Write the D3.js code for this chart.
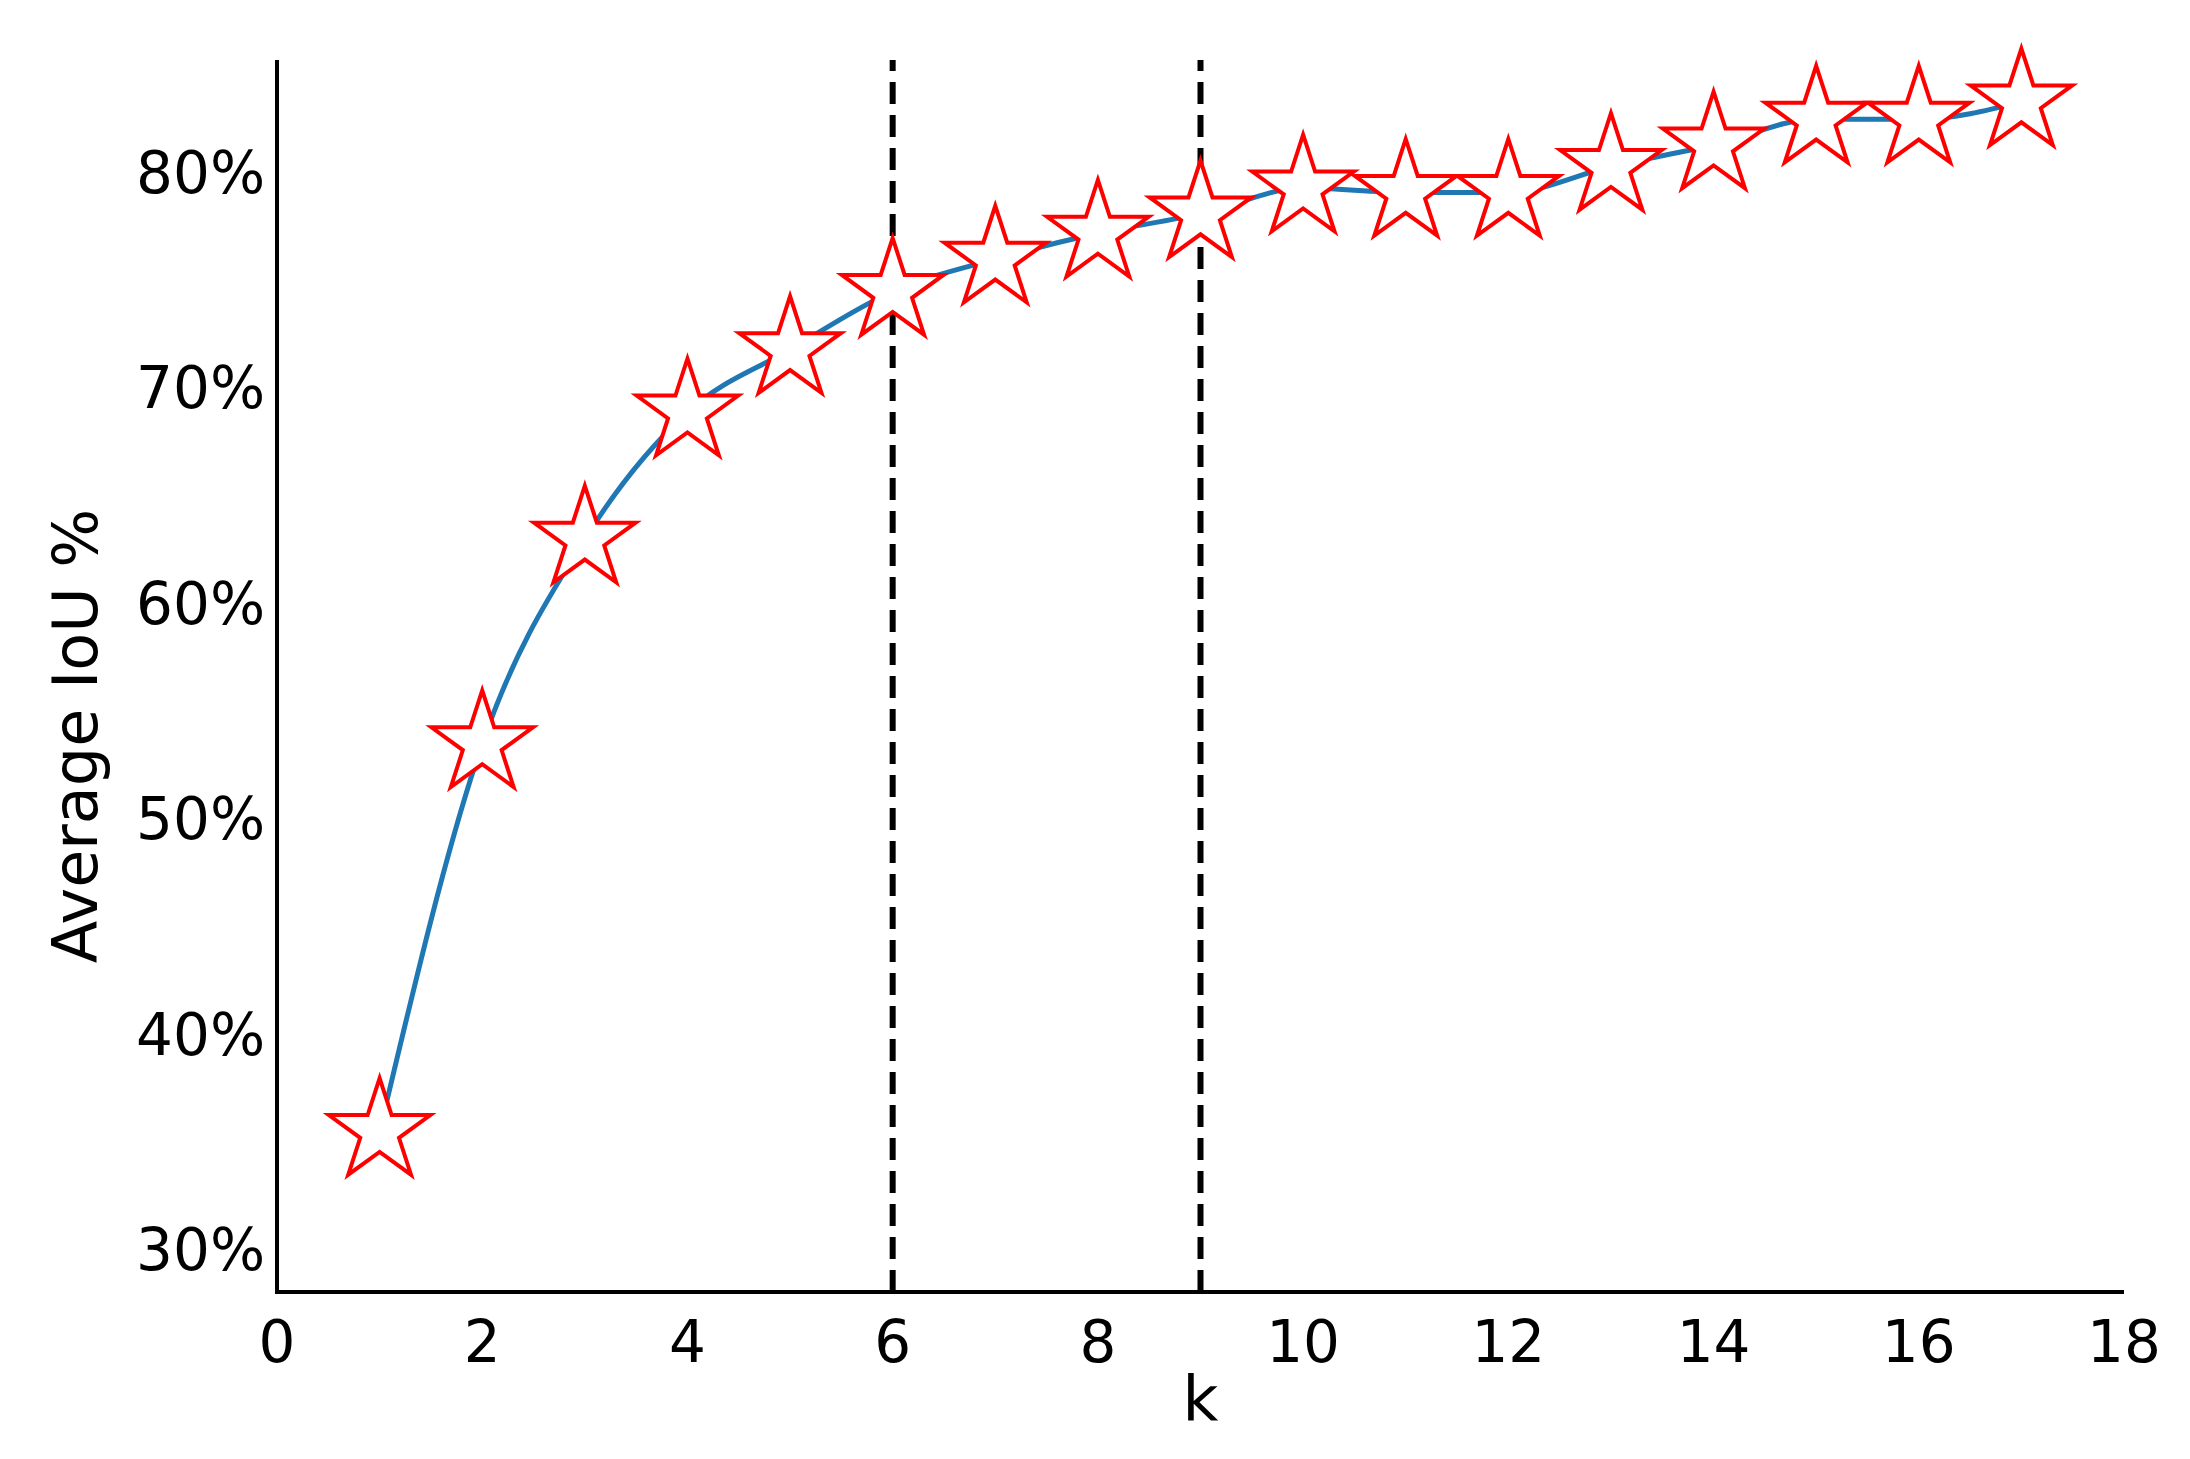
<!DOCTYPE html>
<html><head><meta charset="utf-8">
<script src="https://cdn.jsdelivr.net/npm/d3@7"></script>
<style>body{margin:0;background:#fff}text{font-family:"DejaVu Sans",sans-serif}</style>
</head><body><svg id="chart"></svg>
<script>
const kValues = [1,2,3,4,5,6,7,8,9,10,11,12,13,14,15,16,17];
const iouValues = [35.5,53.5,63.0,68.9,71.8,74.5,76.0,77.2,78.1,79.3,79.1,79.1,80.3,81.3,82.5,82.5,83.3];
const dashedK = [6, 9];
const xTicks = [0,2,4,6,8,10,12,14,16,18];
const yTicks = [30,40,50,60,70,80];

const width = 2190, height = 1459;
const svg = d3.select("#chart").attr("width", width).attr("height", height);
const x = d3.scaleLinear().domain([0, 18]).range([277, 2124]);
const y = d3.scaleLinear().domain([30, 80]).range([1250, 173]);
const yBottom = 1292, yTop = 60;

// dashed verticals
svg.selectAll(".vline").data(dashedK).join("line")
  .attr("x1", d => x(d)).attr("x2", d => x(d))
  .attr("y1", yBottom).attr("y2", yTop)
  .attr("stroke", "#000").attr("stroke-width", 6).attr("stroke-dasharray", "22,11");

// line
const pts = kValues.map((k, i) => [k, iouValues[i]]);
svg.append("path").datum(pts)
  .attr("d", d3.line().x(d => x(d[0])).y(d => y(d[1])).curve(d3.curveMonotoneX))
  .attr("fill", "none").attr("stroke", "#1f77b4").attr("stroke-width", 5);

// stars
const star = d3.symbol().type(d3.symbolStar).size(3200);
svg.selectAll(".star").data(pts).join("path")
  .attr("d", star)
  .attr("transform", d => `translate(${x(d[0])},${y(d[1])}) rotate(0)`)
  .attr("fill", "#fff").attr("stroke", "#ff0000").attr("stroke-width", 4);

// axes
svg.append("line").attr("x1", x(0)).attr("x2", x(0)).attr("y1", yBottom).attr("y2", yTop)
  .attr("stroke", "#000").attr("stroke-width", 4);
svg.append("line").attr("x1", x(0) - 2).attr("x2", x(18)).attr("y1", yBottom).attr("y2", yBottom)
  .attr("stroke", "#000").attr("stroke-width", 4);

svg.selectAll(".xt").data(xTicks).join("text")
  .attr("x", d => x(d)).attr("y", yBottom + 70)
  .attr("text-anchor", "middle").attr("font-size", 58).text(d => d);
svg.selectAll(".yt").data(yTicks).join("text")
  .attr("x", x(0) - 12).attr("y", d => y(d) + 20)
  .attr("text-anchor", "end").attr("font-size", 58).text(d => d + "%");

svg.append("text").attr("x", x(9)).attr("y", 1420).attr("text-anchor", "middle")
  .attr("font-size", 62).text("k");
svg.append("text").attr("transform", `translate(97,${(yBottom + yTop) / 2 + 60}) rotate(-90)`)
  .attr("text-anchor", "middle").attr("font-size", 62).text("Average IoU %");
</script></body></html>
